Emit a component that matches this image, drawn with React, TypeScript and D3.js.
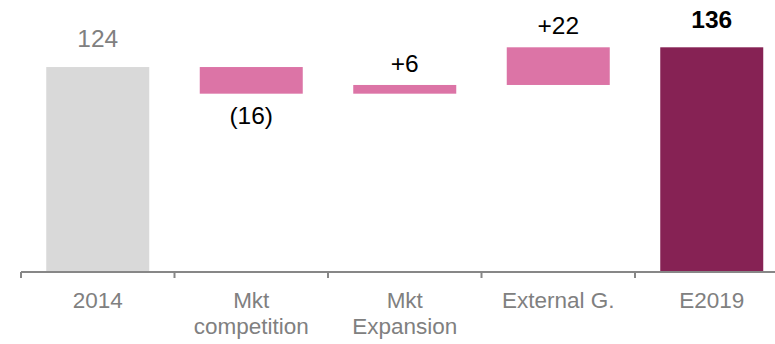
import React from "react";
import * as d3 from "d3";

const categories = ["2014", "Mkt\ncompetition", "Mkt\nExpansion", "External G.", "E2019"];
const kinds = ["total", "delta", "delta", "delta", "total"];
const values = [124, -16.2, 5.3, 22.9, 136];
const valueLabels = ["124", "(16)", "+6", "+22", "136"];

const W = 775;
const H = 344;

export default function App() {
  const x = d3
    .scaleBand<string>()
    .domain(categories)
    .range([21, 788.5])
    .paddingInner(0.329)
    .paddingOuter(0.1645);
  const y = d3.scaleLinear().domain([0, 136]).range([271, 47.3]);

  let running = 0;
  const bars = categories.map((c, i) => {
    let y0: number, y1: number;
    if (kinds[i] === "total") {
      y0 = 0;
      y1 = values[i];
      running = values[i];
    } else {
      y0 = running;
      y1 = running + values[i];
      running = y1;
    }
    return { c, i, lo: Math.min(y0, y1), hi: Math.max(y0, y1), v: values[i] };
  });

  const step = x.step();
  const start = x.range()[0];
  const ticks = d3.range(categories.length + 1).map((k) => start + k * step);

  const fill = (i: number) =>
    i === 0 ? "#d9d9d9" : i === categories.length - 1 ? "#862254" : "#dc74a6";

  return (
    <svg
      width={W}
      height={H}
      style={{ position: "absolute", left: 0, top: 0, fontFamily: "'Liberation Sans', Arial, sans-serif" }}
    >
      {bars.map((b) => (
        <rect
          key={b.c}
          x={x(b.c)}
          width={x.bandwidth()}
          y={y(b.hi)}
          height={y(b.lo) - y(b.hi)}
          fill={fill(b.i)}
        />
      ))}
      {bars.map((b) => {
        const cx = (x(b.c) as number) + x.bandwidth() / 2;
        const isTotal = kinds[b.i] === "total";
        const last = b.i === categories.length - 1;
        let ty: number;
        if (isTotal) ty = y(b.hi) - 19.8;
        else if (b.v < 0) ty = y(b.lo) + 30.8;
        else ty = y(b.hi) - 13;
        return (
          <text
            key={"l" + b.c}
            x={cx}
            y={ty}
            textAnchor="middle"
            fontSize={24.5}
            fontWeight={last ? "bold" : "normal"}
            fill={b.i === 0 ? "#808080" : "#000000"}
          >
            {valueLabels[b.i]}
          </text>
        );
      })}
      <line x1={start} x2={W + 20} y1={272} y2={272} stroke="#878787" strokeWidth={2} />
      {ticks.map((t, k) => (
        <line key={"t" + k} x1={t} x2={t} y1={272} y2={278} stroke="#878787" strokeWidth={2} />
      ))}
      {categories.map((c) => {
        const cx = (x(c) as number) + x.bandwidth() / 2;
        const lines = c.split("\n");
        return (
          <text key={"a" + c} x={cx} y={308.3} textAnchor="middle" fontSize={22.5} fill="#808080">
            {lines.map((ln, j) => (
              <tspan key={j} x={cx} dy={j === 0 ? 0 : 26}>
                {ln}
              </tspan>
            ))}
          </text>
        );
      })}
    </svg>
  );
}
